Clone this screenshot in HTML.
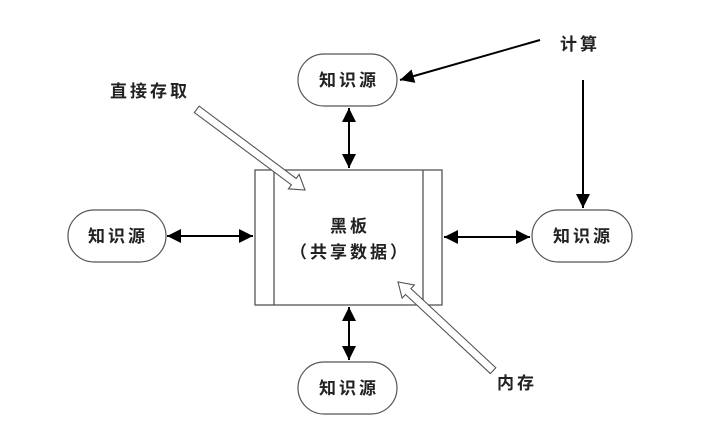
<!DOCTYPE html>
<html><head><meta charset="utf-8"><style>
body{margin:0;background:#fff;}
svg text{font-family:"Liberation Sans","Noto Sans CJK SC",sans-serif;fill:#222;letter-spacing:3px;font-weight:bold;}
</style></head><body>
<svg width="715" height="435" viewBox="0 0 715 435" xmlns="http://www.w3.org/2000/svg">
<defs>
<marker id="a" viewBox="0 0 10 10" refX="10" refY="5" markerWidth="7" markerHeight="7" orient="auto-start-reverse"><path d="M0,0 L10,5 L0,10 z" fill="#000"/></marker>
</defs>
<rect x="255" y="170" width="187" height="135" fill="#fff" stroke="#555" stroke-width="1.3"/>
<line x1="274" y1="170" x2="274" y2="305" stroke="#555" stroke-width="1.3"/>
<line x1="423" y1="170" x2="423" y2="305" stroke="#555" stroke-width="1.3"/>
<text x="350" y="232" font-size="17" text-anchor="middle">黑板</text>
<text x="350" y="258" font-size="17" text-anchor="middle">（共享数据）</text>
<g fill="#fff" stroke="#555" stroke-width="1.2">
<rect x="298" y="54" width="99" height="52" rx="26"/>
<rect x="68" y="210" width="98" height="52" rx="26"/>
<rect x="532" y="210" width="100" height="52" rx="26"/>
<rect x="298" y="362" width="99" height="52" rx="26"/>
</g>
<g font-size="17" text-anchor="middle">
<text x="349" y="86">知识源</text>
<text x="118" y="242">知识源</text>
<text x="583" y="242">知识源</text>
<text x="349" y="394">知识源</text>
</g>
<g stroke="#000" stroke-width="2">
<line x1="349" y1="108" x2="349" y2="168" marker-start="url(#a)" marker-end="url(#a)"/>
<line x1="349" y1="307" x2="349" y2="360" marker-start="url(#a)" marker-end="url(#a)"/>
<line x1="167" y1="236" x2="253" y2="236" marker-start="url(#a)" marker-end="url(#a)"/>
<line x1="444" y1="237" x2="530" y2="237" marker-start="url(#a)" marker-end="url(#a)"/>
<line x1="540" y1="40" x2="400" y2="80" marker-end="url(#a)"/>
<line x1="583" y1="80" x2="583" y2="208" marker-end="url(#a)"/>
</g>
<g fill="#fff" stroke="#555" stroke-width="1.1">
<g transform="translate(305,190) rotate(36.7)">
<polygon points="0,0 -14,-9 -14,-4 -135,-4 -135,4 -14,4 -14,9"/>
</g>
<g transform="translate(398,282) rotate(223)">
<polygon points="0,0 -14,-9 -14,-4 -130,-4 -130,4 -14,4 -14,9"/>
</g>
</g>
<text x="110" y="97" font-size="17">直接存取</text>
<text x="560" y="50" font-size="17">计算</text>
<text x="497" y="389" font-size="17">内存</text>
</svg>
</body></html>
